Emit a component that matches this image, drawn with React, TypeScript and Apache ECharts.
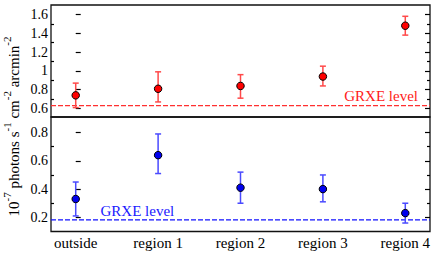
import React, { useEffect, useRef } from "react";
import * as echarts from "echarts";

const categories = ["outside", "region 1", "region 2", "region 3", "region 4"];
const redValues = [0.74, 0.81, 0.84, 0.94, 1.48];
const redLow = [0.61, 0.67, 0.71, 0.84, 1.38];
const redHigh = [0.87, 0.99, 0.96, 1.05, 1.58];
const redLevel = 0.63;
const blueValues = [0.33, 0.64, 0.41, 0.4, 0.23];
const blueLow = [0.21, 0.51, 0.3, 0.31, 0.16];
const blueHigh = [0.45, 0.79, 0.52, 0.5, 0.3];
const blueLevel = 0.182;
const topMajor = [0.6, 0.8, 1.0, 1.2, 1.4, 1.6];
const topMinor = [0.7, 0.9, 1.1, 1.3, 1.5];
const botMajor = [0.2, 0.4, 0.6, 0.8];
const botMinor = [0.3, 0.5, 0.7];

const FONT = "Liberation Serif";

function errorBars(color: string) {
  return (params: any, api: any) => {
    const x = api.value(0);
    const lo = api.coord([x, api.value(1)]);
    const hi = api.coord([x, api.value(2)]);
    const cap = 3;
    const style = { stroke: color, lineWidth: 1.5 };
    return {
      type: "group",
      children: [
        { type: "line", shape: { x1: lo[0], y1: lo[1], x2: hi[0], y2: hi[1] }, style },
        { type: "line", shape: { x1: lo[0] - cap, y1: lo[1], x2: lo[0] + cap, y2: lo[1] }, style },
        { type: "line", shape: { x1: hi[0] - cap, y1: hi[1], x2: hi[0] + cap, y2: hi[1] }, style },
      ],
    };
  };
}

function fmt(v: number) {
  return String(+Number(v).toFixed(1));
}

function yAxes(gridIndex: number, min: number, max: number, major: number[], minor: number[]) {
  const base = {
    type: "value",
    gridIndex,
    min,
    max,
    splitLine: { show: false },
    axisLine: { show: false },
  };
  const tick = (vals: number[], len: number) => ({
    show: true,
    inside: true,
    length: len,
    customValues: vals,
    lineStyle: { color: "#000", width: 1.2 },
  });
  return [
    {
      ...base,
      position: "left",
      axisTick: tick(major, 5),
      axisLabel: {
        show: true,
        customValues: major,
        formatter: fmt,
        fontFamily: FONT,
        fontSize: 14,
        color: "#000",
        margin: 3,
      },
    },
    { ...base, position: "left", axisTick: tick(minor, 3), axisLabel: { show: false } },
    { ...base, position: "right", axisTick: tick(major, 5), axisLabel: { show: false } },
    { ...base, position: "right", axisTick: tick(minor, 3), axisLabel: { show: false } },
  ];
}

export default function App() {
  const ref = useRef<HTMLDivElement>(null);
  useEffect(() => {
    if (!ref.current) return;
    const chart = echarts.init(ref.current, undefined, { renderer: "svg" });
    const xBase = {
      type: "value",
      min: -0.3,
      max: 4.3,
      splitLine: { show: false },
      axisLine: { show: false },
      axisTick: { show: false },
    };
    const topY = yAxes(0, 0.51, 1.7, topMajor, topMinor);
    const botY = yAxes(1, 0.1, 0.91, botMajor, botMinor);
    const option: any = {
      animation: false,
      textStyle: { fontFamily: FONT },
      grid: [
        { left: 51, right: 6, top: 5, height: 112, show: true, borderColor: "#111", borderWidth: 1.3, backgroundColor: "transparent" },
        { left: 51, right: 6, top: 117, height: 114.5, show: true, borderColor: "#111", borderWidth: 1.3, backgroundColor: "transparent" },
      ],
      xAxis: [
        { ...xBase, gridIndex: 0, axisLabel: { show: false } },
        {
          ...xBase,
          gridIndex: 1,
          axisLabel: {
            show: true,
            customValues: [0, 1, 2, 3, 4],
            formatter: (v: number) => categories[Math.round(v)],
            fontFamily: FONT,
            fontSize: 15,
            color: "#000",
            margin: 4,
          },
        },
      ],
      yAxis: [...topY, ...botY],
      series: [
        {
          type: "line",
          xAxisIndex: 0,
          yAxisIndex: 0,
          data: [[-0.3, redLevel], [4.3, redLevel]],
          showSymbol: false,
          symbol: "none",
          lineStyle: { color: "#ff3030", width: 1.2, type: [5, 2] },
          z: 1,
        },
        {
          type: "custom",
          xAxisIndex: 0,
          yAxisIndex: 0,
          renderItem: errorBars("#ff4a4a"),
          data: categories.map((_, i) => [i, redLow[i], redHigh[i]]),
          encode: { x: 0, y: [1, 2] },
          z: 2,
        },
        {
          type: "scatter",
          xAxisIndex: 0,
          yAxisIndex: 0,
          data: categories.map((_, i) => [i, redValues[i]]),
          symbolSize: 7.5,
          itemStyle: { color: "#ff0000", borderColor: "#000", borderWidth: 1, opacity: 1 },
          z: 3,
        },
        {
          type: "line",
          xAxisIndex: 1,
          yAxisIndex: 4,
          data: [[-0.3, blueLevel], [4.3, blueLevel]],
          showSymbol: false,
          symbol: "none",
          lineStyle: { color: "#1010ff", width: 1.2, type: [5, 2] },
          z: 1,
        },
        {
          type: "custom",
          xAxisIndex: 1,
          yAxisIndex: 4,
          renderItem: errorBars("#4a4aff"),
          data: categories.map((_, i) => [i, blueLow[i], blueHigh[i]]),
          encode: { x: 0, y: [1, 2] },
          z: 2,
        },
        {
          type: "scatter",
          xAxisIndex: 1,
          yAxisIndex: 4,
          data: categories.map((_, i) => [i, blueValues[i]]),
          symbolSize: 7.5,
          itemStyle: { color: "#0000ee", borderColor: "#000", borderWidth: 1, opacity: 1 },
          z: 3,
        },
      ],
      graphic: [
        {
          type: "text",
          x: 418,
          y: 103.5,
          style: {
            text: "GRXE level",
            fill: "#ff1a1a",
            fontFamily: FONT,
            fontSize: 15,
            align: "right",
            verticalAlign: "bottom",
          },
        },
        {
          type: "text",
          x: 100.5,
          y: 218,
          style: {
            text: "GRXE level",
            fill: "#1a1aff",
            fontFamily: FONT,
            fontSize: 15,
            align: "left",
            verticalAlign: "bottom",
          },
        },
        {
          type: "text",
          x: 13.7,
          y: 126.5,
          rotation: Math.PI / 2,
          style: {
            text: "{n|10}{s|-7}{n| photons s}{s|-1}{n| cm}{s|-2}{n| arcmin}{s|-2}",
            align: "center",
            verticalAlign: "middle",
            fill: "#000",
            rich: {
              n: { fontSize: 15, fontFamily: FONT, lineHeight: 24, fill: "#000" },
              s: { fontSize: 11, fontFamily: FONT, lineHeight: 11, verticalAlign: "top", fill: "#000" },
            },
          },
        },
      ],
    };
    chart.setOption(option);
    return () => chart.dispose();
  }, []);
  return <div ref={ref} style={{ width: 436, height: 256, position: "absolute", left: 0, top: 0 }} />;
}
